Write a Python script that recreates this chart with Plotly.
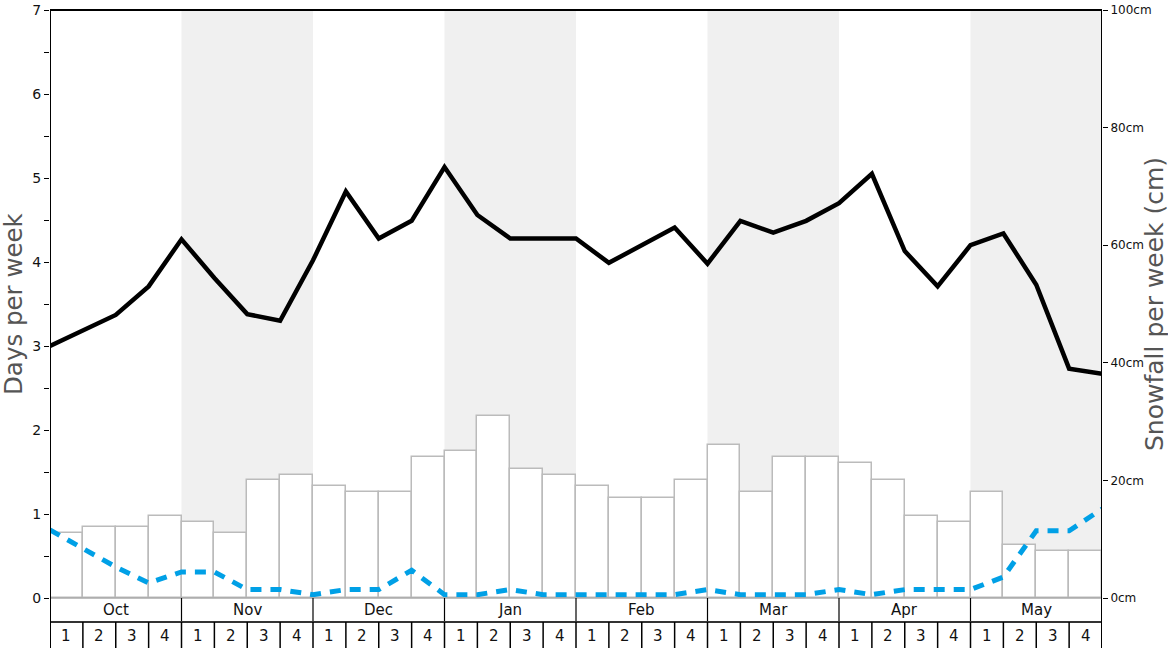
import plotly.graph_objects as go

months = ["Oct", "Nov", "Dec", "Jan", "Feb", "Mar", "Apr", "May"]
week_labels = ["1", "2", "3", "4"]
snow_cm = [11, 12, 12, 14, 13, 11, 20, 21, 19, 18, 18, 24, 25, 31, 22, 21,
           19, 17, 17, 20, 26, 18, 24, 24, 23, 20, 14, 13, 18, 9, 8, 8]
days_per_week = [3.0, 3.19, 3.37, 3.71, 4.27, 3.81, 3.38, 3.30, 4.02, 4.84, 4.28,
                 4.49, 5.13, 4.56, 4.28, 4.28, 4.28, 3.99, 4.20, 4.41, 3.98, 4.49,
                 4.35, 4.49, 4.70, 5.05, 4.13, 3.71, 4.20, 4.34, 3.73, 2.73, 2.67]
powder_days = [0.81, 0.59, 0.37, 0.18, 0.31, 0.31, 0.10, 0.10, 0.04, 0.10, 0.10,
               0.33, 0.04, 0.04, 0.10, 0.04, 0.04, 0.04, 0.04, 0.04, 0.10, 0.04,
               0.04, 0.04, 0.10, 0.04, 0.10, 0.10, 0.10, 0.25, 0.80, 0.80, 1.06]
snow_ticks = [0, 20, 40, 60, 80, 100]

n_weeks = len(snow_cm)
bar_x = [i + 0.5 for i in range(n_weeks)]
line_x = list(range(n_weeks + 1))

# body margin is removed by the post_script below, so figure pixels == page pixels
W, H = 1168, 648
left_px, right_px, top_px, base_px = 50, 1102, 10, 598
plot_h = H - top_px
plot_w = right_px - left_px

def py(page_y):
    return (H - page_y) / plot_h

def px(page_x):
    return (page_x - left_px) / plot_w

FONT = "DejaVu Sans"

fig = go.Figure()
fig.add_trace(go.Bar(x=bar_x, y=snow_cm, width=1, yaxis="y",
                     marker=dict(color="white", line=dict(color="#bbbbbb", width=1.5)),
                     showlegend=False, hoverinfo="y"))
fig.add_trace(go.Scatter(x=line_x, y=days_per_week, yaxis="y2", mode="lines",
                         line=dict(color="black", width=4.5), showlegend=False))
fig.add_trace(go.Scatter(x=line_x, y=powder_days, yaxis="y2", mode="lines",
                         line=dict(color="#00a0e6", width=5, dash="11px,9px"),
                         showlegend=False))

shapes = []
for m in range(len(months)):
    if m % 2 == 1:
        shapes.append(dict(type="rect", xref="x", yref="paper", x0=4 * m, x1=4 * m + 4,
                           y0=py(base_px), y1=1, fillcolor="#f0f0f0", line_width=0,
                           layer="below"))
shapes.append(dict(type="line", xref="x", yref="paper", x0=0, x1=n_weeks,
                   y0=py(base_px), y1=py(base_px), line=dict(color="#aaaaaa", width=1.5)))
for m in range(1, len(months)):
    shapes.append(dict(type="line", xref="x", yref="paper", x0=4 * m, x1=4 * m,
                       y0=py(622), y1=py(base_px), line=dict(color="black", width=1.2)))
shapes.append(dict(type="line", xref="x", yref="paper", x0=0, x1=n_weeks,
                   y0=py(622), y1=py(622), line=dict(color="#333333", width=2)))
for w in range(1, n_weeks):
    shapes.append(dict(type="line", xref="x", yref="paper", x0=w, x1=w,
                       y0=0, y1=py(622), line=dict(color="black", width=1.5)))
shapes.append(dict(type="line", xref="x", yref="paper", x0=0, x1=0, y0=0, y1=1,
                   line=dict(color="black", width=2)))
shapes.append(dict(type="line", xref="x", yref="paper", x0=n_weeks, x1=n_weeks, y0=0, y1=1,
                   line=dict(color="black", width=2)))
shapes.append(dict(type="line", xref="x", yref="paper", x0=0, x1=n_weeks, y0=1, y1=1,
                   line=dict(color="black", width=2)))

annotations = []
for m, name in enumerate(months):
    annotations.append(dict(x=4 * m + 2, y=py(610), xref="x", yref="paper", text=name,
                            xanchor="center", yanchor="middle", showarrow=False,
                            font=dict(family=FONT, size=15, color="#111")))
for w in range(n_weeks):
    annotations.append(dict(x=w + 0.5, y=py(635.5), xref="x", yref="paper",
                            text=week_labels[w % 4], xanchor="center", yanchor="middle",
                            showarrow=False, font=dict(family=FONT, size=15, color="#111")))
annotations.append(dict(x=px(13), y=py(304), xref="paper", yref="paper",
                        text="Days per week", textangle=-90, showarrow=False,
                        xanchor="center", yanchor="middle",
                        font=dict(family=FONT, size=24.5, color="#555555")))
annotations.append(dict(x=px(1154), y=py(304), xref="paper", yref="paper",
                        text="Snowfall per week (cm)", textangle=-90, showarrow=False,
                        xanchor="center", yanchor="middle",
                        font=dict(family=FONT, size=25, color="#555555")))

dom = [py(base_px), 1]
fig.update_layout(
    width=W, height=H,
    margin=dict(l=left_px, r=W - right_px, t=top_px, b=0, autoexpand=False),
    paper_bgcolor="white", plot_bgcolor="rgba(0,0,0,0)",
    bargap=0,
    xaxis=dict(range=[0, n_weeks], showticklabels=False, showgrid=False,
               zeroline=False, showline=False, ticks="", automargin=False),
    yaxis=dict(domain=dom, range=[0, 100], side="right", tickmode="array",
               tickvals=snow_ticks, ticktext=[f"{v}cm" for v in snow_ticks],
               ticks="outside", ticklen=5, tickcolor="black", automargin=False,
               ticklabeloverflow="allow",
               showgrid=False, zeroline=False, showline=False,
               tickfont=dict(family=FONT, size=12, color="#111")),
    yaxis2=dict(domain=dom, range=[0, 7], overlaying="y", side="left", dtick=1,
                ticks="outside", ticklen=5, tickcolor="black", automargin=False,
                ticklabeloverflow="allow",
                minor=dict(dtick=0.5, ticks="outside", ticklen=5, tickcolor="black"),
                showgrid=False, zeroline=False, showline=False,
                tickfont=dict(family=FONT, size=14, color="#111")),
    shapes=shapes, annotations=annotations,
)

fig.write_html("out.html",
               config={"displayModeBar": False},
               post_script="document.body.style.margin='0px';"
                           "document.body.style.overflow='hidden';")
